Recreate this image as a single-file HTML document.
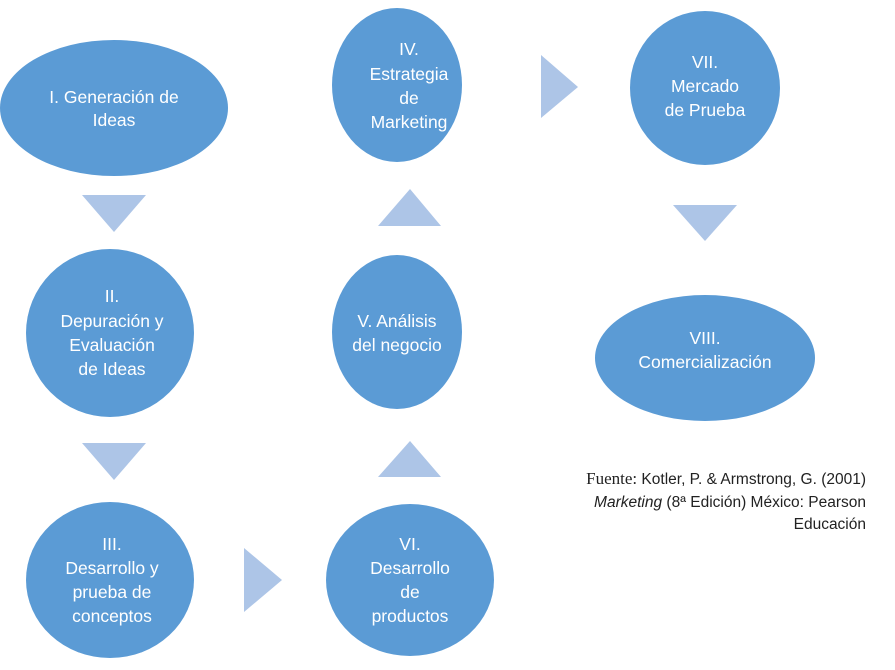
<!DOCTYPE html>
<html><head><meta charset="utf-8"><style>
html,body{margin:0;padding:0;background:#fff;}
svg{display:block}
text{font-family:"Liberation Sans",sans-serif;font-size:17.5px;fill:#fff;text-anchor:middle}
.c{font-size:15.5px;text-anchor:end;fill:#222}
</style></head><body>
<svg width="895" height="670" viewBox="0 0 895 670">
<g fill="#5b9bd5">
<ellipse cx="114" cy="108" rx="114" ry="68"/>
<ellipse cx="110" cy="333" rx="84" ry="84"/>
<ellipse cx="110" cy="580" rx="84" ry="78"/>
<ellipse cx="410" cy="580" rx="84" ry="76"/>
<ellipse cx="397" cy="332" rx="65" ry="77"/>
<ellipse cx="397" cy="85" rx="65" ry="77"/>
<ellipse cx="705" cy="88" rx="75" ry="77"/>
<ellipse cx="705" cy="358" rx="110" ry="63"/>
</g>
<g fill="#adc5e7">
<polygon points="82,195 146,195 114,232"/>
<polygon points="82,443 146,443 114,480"/>
<polygon points="244,548 282,580 244,612"/>
<polygon points="378,477 441,477 410,441"/>
<polygon points="378,226 441,226 410,189"/>
<polygon points="541,55 578,87 541,118"/>
<polygon points="673,205 737,205 705,241"/>
</g>
<text x="114" y="103">I. Generación de</text>
<text x="114" y="126">Ideas</text>
<text x="112" y="302">II.</text>
<text x="112" y="327">Depuración y</text>
<text x="112" y="351">Evaluación</text>
<text x="112" y="375">de Ideas</text>
<text x="112" y="550">III.</text>
<text x="112" y="574">Desarrollo y</text>
<text x="112" y="598">prueba de</text>
<text x="112" y="622">conceptos</text>
<text x="410" y="550">VI.</text>
<text x="410" y="574">Desarrollo</text>
<text x="410" y="598">de</text>
<text x="410" y="622">productos</text>
<text x="397" y="327">V. Análisis</text>
<text x="397" y="351">del negocio</text>
<text x="409" y="55">IV.</text>
<text x="409" y="80">Estrategia</text>
<text x="409" y="104">de</text>
<text x="409" y="128">Marketing</text>
<text x="705" y="68">VII.</text>
<text x="705" y="92">Mercado</text>
<text x="705" y="116">de Prueba</text>
<text x="705" y="344">VIII.</text>
<text x="705" y="368">Comercialización</text>
<text class="c" x="866" y="484"><tspan font-family="Liberation Serif" font-size="17">Fuente:</tspan> Kotler, P. &amp; Armstrong, G. (2001)</text>
<text class="c" x="866" y="507"><tspan font-style="italic">Marketing</tspan> (8ª Edición) México: Pearson</text>
<text class="c" x="866" y="529">Educación</text>
</svg>
</body></html>
